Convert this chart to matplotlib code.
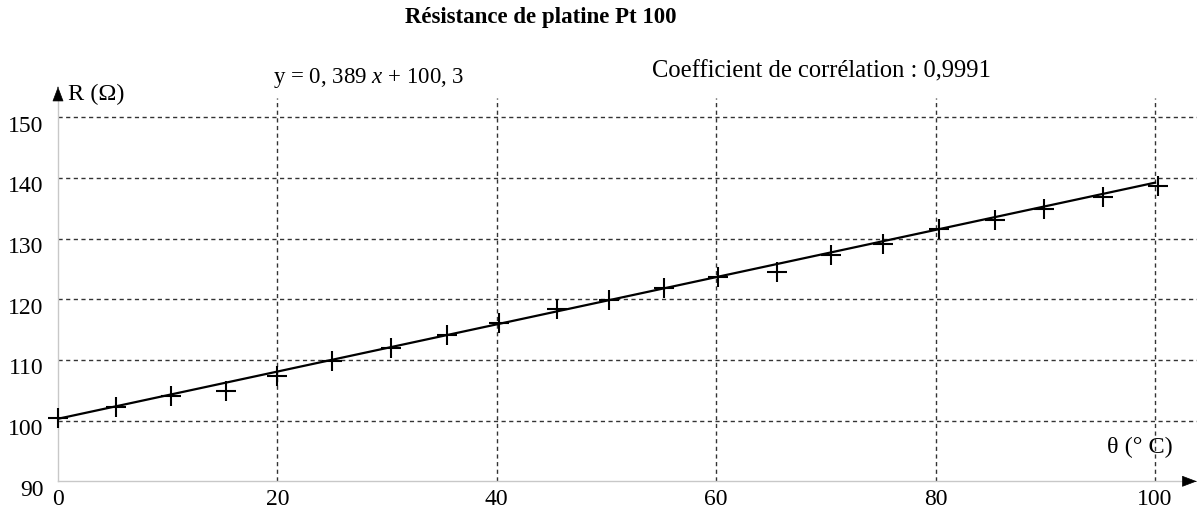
import matplotlib
matplotlib.use("Agg")
import matplotlib.pyplot as plt
import matplotlib.transforms as mtransforms

plt.rcParams['font.family'] = ['Liberation Serif', 'DejaVu Serif']
plt.rcParams['mathtext.fontset'] = 'custom'
plt.rcParams['mathtext.rm'] = 'Liberation Serif'
plt.rcParams['mathtext.it'] = 'Liberation Serif:italic'

# measured points (temperature in °C, resistance in ohm)
temp = [0, 5.3, 10.3, 15.3, 20, 25, 30.4, 35.5, 40.2, 45.5, 50.2,
        55.2, 60.2, 65.5, 70.5, 75.2, 80.3, 85.4, 89.9, 95.3, 100.3]
res = [100.4, 102.2, 104.0, 104.9, 107.4, 109.9, 112.0, 114.1, 116.1, 118.4, 119.8,
       121.8, 123.6, 124.5, 127.3, 129.1, 131.5, 133.1, 134.8, 136.8, 138.7]

# regression line
slope = 0.389
intercept = 100.3
fit_x = [0, 100]
fit_y = [slope * x + intercept for x in fit_x]

x_ticks = [0, 20, 40, 60, 80, 100]
y_ticks = [90, 100, 110, 120, 130, 140, 150]

fig = plt.figure(figsize=(11.97, 5.09), dpi=100)
ax = fig.add_axes([58 / 1197, 27.7 / 509, 1139 / 1197, 400.6 / 509])
ax.set_xlim(0, 103.83)
ax.set_ylim(90, 156)

for s in ax.spines.values():
    s.set_visible(False)

# grid
grid_kw = dict(color='#333333', lw=1, linestyle=(0, (3, 2.5)), zorder=1)
ax.hlines(y_ticks[1:], 0, 103.83, **grid_kw)
ax.vlines(x_ticks[1:], 90, 153.1, **grid_kw)

# axes lines with arrows
ax.plot([0, 0], [90, 152.8], color='#c8c8c8', lw=1, zorder=1, clip_on=False)
ax.plot([0, 102.55], [90, 90], color='#c8c8c8', lw=1, zorder=1, clip_on=False)
head = dict(arrowstyle='-|>,head_length=0.95,head_width=0.36', color='black',
            shrinkA=0, shrinkB=0, mutation_scale=10, lw=0.5)
ax.annotate('', xy=(0, 155.0), xytext=(0, 154.9), arrowprops=head, annotation_clip=False)
ax.annotate('', xy=(103.8, 90), xytext=(103.7, 90), arrowprops=head, annotation_clip=False)

# data and fit
ax.plot(fit_x, fit_y, color='black', lw=1.6, zorder=3, clip_on=False)
ax.plot(temp, res, linestyle='none', marker='+', markersize=15, mew=1.5,
        color='black', zorder=4, clip_on=False)

ax.set_xticks(x_ticks)
ax.set_yticks(y_ticks)
ax.set_xticklabels([str(v) for v in x_ticks], fontsize=17)
ax.set_yticklabels([str(v) for v in y_ticks], fontsize=17)
ax.tick_params(axis='both', length=0)
ax.tick_params(axis='x', pad=5.5)
ax.tick_params(axis='y', pad=10.5)
shift = mtransforms.ScaledTranslation(0, -0.065, fig.dpi_scale_trans)
for lab in ax.get_yticklabels():
    lab.set_transform(lab.get_transform() + shift)

ax.text(0.9, 153.8, 'R (Ω)', fontsize=17.5, va='center', ha='left', clip_on=False)
ax.text(101.6, 95.5, 'θ (° C)', fontsize=17.5, va='center', ha='right')
ax.text(19.6, 156.5, 'y = 0, 389 $x$ + 100, 3', fontsize=16.5, va='center', ha='left',
        clip_on=False)
ax.text(54.15, 157.6, 'Coefficient de corrélation : 0,9991', fontsize=17.7,
        va='center', ha='left', clip_on=False)

fig.text(541 / 1197, 1 - 18 / 509, 'Résistance de platine Pt 100', fontsize=16.5,
         fontweight='bold', ha='center', va='center')

fig.savefig('out.png', dpi=100)
